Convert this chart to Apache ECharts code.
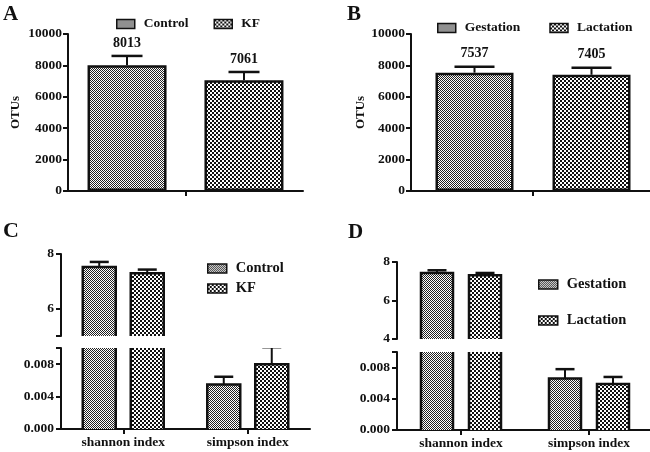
<!DOCTYPE html>
<html>
<head>
<meta charset="utf-8">
<script src="https://cdn.jsdelivr.net/npm/echarts@6/dist/echarts.min.js"></script>
<style>
  html, body { margin: 0; padding: 0; background: #fff; }
  #main { width: 650px; height: 452px; }
</style>
</head>
<body>
<div id="main"></div>
<script>
// A: OTUs control vs KF
var groupsA = ['Control', 'KF'];
var otuA = [8013, 7061];
var otuErrA = [590, 520];
// B: OTUs gestation vs lactation
var groupsB = ['Gestation', 'Lactation'];
var otuB = [7537, 7405];
var otuErrB = [380, 450];
// C, D: diversity indices
var indexCats = ['shannon index', 'simpson index'];
var controlC = [7.52, 0.0055];
var controlErrC = [0.19, 0.00095];
var kfC = [7.30, 0.0080];
var kfErrC = [0.13, 0.0021];
var gestD = [7.43, 0.0066];
var gestErrD = [0.14, 0.0012];
var lactD = [7.31, 0.0059];
var lactErrD = [0.12, 0.0009];
// tick labels
var otuTicks = [0, 2000, 4000, 6000, 8000, 10000];
var upperLabelsC = [6, 8];
var upperLabelsD = [4, 6, 8];
var lowerLabels = [0, 0.004, 0.008];

var FONT = 'Liberation Serif';
var INK = '#111';

function checker(cell, dark) {
  var c = document.createElement('canvas');
  c.width = c.height = cell * 2;
  var ctx = c.getContext('2d');
  ctx.fillStyle = '#fff';
  ctx.fillRect(0, 0, cell * 2, cell * 2);
  ctx.fillStyle = dark;
  ctx.fillRect(0, 0, cell, cell);
  ctx.fillRect(cell, cell, cell, cell);
  return { image: c, repeat: 'repeat' };
}
var finePat = checker(1, '#222');
var coarsePat = checker(2, '#111');

var txt = function (size) {
  return { fontFamily: FONT, fontWeight: 'bold', fontSize: size, color: INK };
};

function bars(name, data, gi, pat, bw, gap) {
  return {
    type: 'bar', name: name, data: data, xAxisIndex: gi, yAxisIndex: gi,
    barWidth: bw, barGap: gap, silent: true,
    itemStyle: { color: pat, borderColor: INK, borderWidth: 2.5 }
  };
}

// error bars (upper half only), optional value label above the cap
function errs(vals, sd, gi, dx, capW, withLabel) {
  return {
    type: 'custom', xAxisIndex: gi, yAxisIndex: gi, clip: true, silent: true, z: 3,
    data: vals.map(function (v, i) { return [i, v, sd[i]]; }),
    renderItem: function (params, api) {
      var b = api.coord([api.value(0), api.value(1)]);
      var t = api.coord([api.value(0), api.value(1) + api.value(2)]);
      var x = b[0] + dx;
      var kids = [
        { type: 'line', shape: { x1: x, y1: b[1], x2: x, y2: t[1] }, style: { stroke: INK, lineWidth: 2 } },
        { type: 'line', shape: { x1: x - capW / 2, y1: t[1], x2: x + capW / 2, y2: t[1] }, style: { stroke: INK, lineWidth: 2.5 } }
      ];
      if (withLabel) {
        kids.push({ type: 'text', x: x, y: t[1] - 6, style: {
          text: String(api.value(1)), align: 'center', verticalAlign: 'bottom',
          font: 'bold 14px "' + FONT + '"', fill: INK } });
      }
      return { type: 'group', children: kids };
    }
  };
}

// bars on a broken axis: no border where the grid cuts them, plus error bar
function brokenBars(name, vals, sd, gi, pat, dx, bw, capW) {
  return {
    type: 'custom', name: name, xAxisIndex: gi, yAxisIndex: gi, clip: true, silent: true,
    itemStyle: { color: pat },
    data: vals.map(function (v, i) { return [i, v, sd[i]]; }),
    renderItem: function (params, api) {
      var top = api.coord([api.value(0), api.value(1)]);
      var base = api.coord([api.value(0), 0]);
      var t = api.coord([api.value(0), api.value(1) + api.value(2)]);
      var x = top[0] + dx;
      var x0 = x - bw / 2, x1 = x + bw / 2;
      return { type: 'group', children: [
        { type: 'rect', shape: { x: x0, y: top[1], width: bw, height: base[1] - top[1] }, style: { fill: pat } },
        { type: 'polyline', shape: { points: [[x0, base[1]], [x0, top[1]], [x1, top[1]], [x1, base[1]]] },
          style: { stroke: INK, lineWidth: 2.5, fill: null } },
        { type: 'line', shape: { x1: x, y1: top[1], x2: x, y2: t[1] }, style: { stroke: INK, lineWidth: 2 } },
        { type: 'line', shape: { x1: x - capW / 2, y1: t[1], x2: x + capW / 2, y2: t[1] }, style: { stroke: INK, lineWidth: 2.5 } }
      ] };
    }
  };
}

var line = { show: true, onZero: false, lineStyle: { color: INK, width: 2 } };

function xCat(gi, data, showAll) {
  return {
    type: 'category', gridIndex: gi, data: data, show: showAll !== null,
    axisLine: line,
    axisTick: { show: true, alignWithLabel: true, length: 5, lineStyle: { color: INK, width: 2 } },
    axisLabel: Object.assign({ show: !!showAll, margin: 7 }, txt(13.5))
  };
}

function yVal(gi, min, max, labels, ticks, fmt, margin) {
  return {
    type: 'value', gridIndex: gi, min: min, max: max,
    axisLine: line, splitLine: { show: false },
    axisTick: { show: true, length: 5, customValues: ticks, lineStyle: { color: INK, width: 2 } },
    axisLabel: Object.assign({ margin: margin, customValues: labels, formatter: fmt }, txt(13.5))
  };
}

var chart = echarts.init(document.getElementById('main'));
var lowerFmt = function (v) { return v.toFixed(3); };
var intFmt = function (v) { return String(v); };

var yA = yVal(0, 0, 10000, otuTicks, otuTicks, intFmt, 6);
yA.name = 'OTUs'; yA.nameLocation = 'middle'; yA.nameGap = 46; yA.nameTextStyle = txt(13);
var yB = yVal(1, 0, 10000, otuTicks, otuTicks, intFmt, 6);
yB.name = 'OTUs'; yB.nameLocation = 'middle'; yB.nameGap = 41; yB.nameTextStyle = txt(13);

var legendBase = { padding: 0, itemWidth: 18, itemHeight: 9, icon: 'rect',
  itemStyle: { borderColor: INK, borderWidth: 1.5 } };

var option = {
  animation: false,
  backgroundColor: '#fff',
  grid: [
    { left: 68, top: 34, width: 235, height: 157, outerBoundsMode: 'none' },
    { left: 411, top: 34, width: 244, height: 157, outerBoundsMode: 'none' },
    { left: 61, top: 254, width: 249, height: 82, outerBoundsMode: 'none' },
    { left: 61, top: 348, width: 249, height: 81, outerBoundsMode: 'none' },
    { left: 397, top: 262, width: 256, height: 77, outerBoundsMode: 'none' },
    { left: 397, top: 352, width: 256, height: 78, outerBoundsMode: 'none' }
  ],
  xAxis: [
    xCat(0, [''], false),
    xCat(1, [''], false),
    xCat(2, indexCats, null),
    xCat(3, indexCats, true),
    xCat(4, indexCats, null),
    xCat(5, indexCats, true)
  ],
  yAxis: [
    yA, yB,
    yVal(2, 5, 8, upperLabelsC, [5].concat(upperLabelsC), intFmt, 7),
    yVal(3, 0, 0.01, lowerLabels, lowerLabels.concat([0.01]), lowerFmt, 7),
    yVal(4, 4, 8, upperLabelsD, upperLabelsD, intFmt, 7),
    yVal(5, 0, 0.01, lowerLabels, lowerLabels.concat([0.01]), lowerFmt, 7)
  ],
  legend: [
    Object.assign({ data: groupsA, left: 116, top: 17, itemGap: 25,
      textStyle: Object.assign({ padding: [0, 0, 0, 4] }, txt(13.5)) }, legendBase),
    Object.assign({ data: groupsB, left: 437, top: 21, itemGap: 29,
      textStyle: Object.assign({ padding: [0, 0, 0, 4] }, txt(13.5)) }, legendBase),
    Object.assign({ data: groupsA, orient: 'vertical', left: 207, top: 261, itemGap: 5,
      textStyle: Object.assign({ padding: [0, 0, 0, 4] }, txt(14.5)) }, legendBase, { itemWidth: 19 }),
    Object.assign({ data: groupsB, orient: 'vertical', left: 538, top: 277, itemGap: 21,
      textStyle: Object.assign({ padding: [0, 0, 0, 4] }, txt(14.5)) }, legendBase, { itemWidth: 19 })
  ],
  graphic: [
    { type: 'text', left: 3, top: 4, style: { text: 'A', font: 'bold 21px "' + FONT + '"', fill: INK } },
    { type: 'text', left: 347, top: 4, style: { text: 'B', font: 'bold 21px "' + FONT + '"', fill: INK } },
    { type: 'text', left: 3, top: 220, style: { text: 'C', font: 'bold 22px "' + FONT + '"', fill: INK } },
    { type: 'text', left: 348, top: 222, style: { text: 'D', font: 'bold 21px "' + FONT + '"', fill: INK } }
  ],
  series: [
    bars(groupsA[0], [otuA[0]], 0, finePat, 79, '48%'),
    bars(groupsA[1], [otuA[1]], 0, coarsePat, 79, '48%'),
    errs([otuA[0]], [otuErrA[0]], 0, -58.5, 31, true),
    errs([otuA[1]], [otuErrA[1]], 0, 58.5, 31, true),

    bars(groupsB[0], [otuB[0]], 1, finePat, 78, '50%'),
    bars(groupsB[1], [otuB[1]], 1, coarsePat, 78, '50%'),
    errs([otuB[0]], [otuErrB[0]], 1, -58.5, 40, true),
    errs([otuB[1]], [otuErrB[1]], 1, 58.5, 40, true),

    brokenBars(groupsA[0], controlC, controlErrC, 2, finePat, -24, 33, 19),
    brokenBars(groupsA[1], kfC, kfErrC, 2, coarsePat, 24, 33, 19),
    brokenBars(groupsA[0], controlC, controlErrC, 3, finePat, -24, 33, 19),
    brokenBars(groupsA[1], kfC, kfErrC, 3, coarsePat, 24, 33, 19),

    brokenBars(groupsB[0], gestD, gestErrD, 4, finePat, -24, 32, 19),
    brokenBars(groupsB[1], lactD, lactErrD, 4, coarsePat, 24, 32, 19),
    brokenBars(groupsB[0], gestD, gestErrD, 5, finePat, -24, 32, 19),
    brokenBars(groupsB[1], lactD, lactErrD, 5, coarsePat, 24, 32, 19)
  ]
};
chart.setOption(option);
window.addEventListener('resize', function () { chart.resize(); });
</script>
</body>
</html>
